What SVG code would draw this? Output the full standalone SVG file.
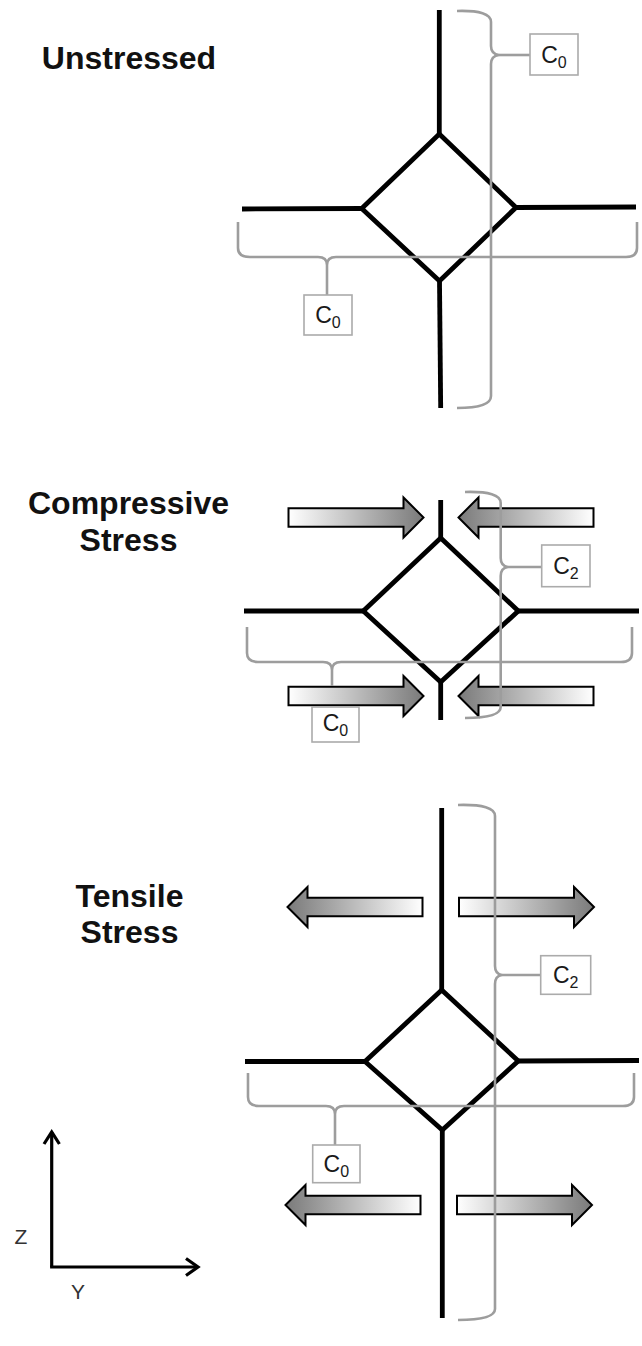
<svg xmlns="http://www.w3.org/2000/svg" width="642" height="1346" viewBox="0 0 642 1346">
<style>
.title{font-family:"Liberation Sans",Arial,sans-serif;font-weight:bold;font-size:32px;fill:#111;text-anchor:middle}
.lat{fill:none;stroke:#000;stroke-width:4.8;stroke-linejoin:miter;stroke-linecap:butt}
.brace{fill:none;stroke:#9d9d9d;stroke-width:2.6;stroke-linecap:butt}
.box{fill:#fff;stroke:#ababab;stroke-width:1.6}
.lbl{font-family:"Liberation Sans",Arial,sans-serif;font-size:23px;fill:#1a1a1a;text-anchor:middle}
.sub{font-size:16px}
.arr{fill:url(#g);stroke:#000;stroke-width:2}
.axis{fill:none;stroke:#000;stroke-width:3.2;stroke-linecap:butt;stroke-linejoin:miter}
.ax{font-family:"Liberation Sans",Arial,sans-serif;font-size:21px;fill:#333;text-anchor:middle}
</style>
<defs>
<linearGradient id="g" x1="0" y1="0" x2="1" y2="0">
<stop offset="0" stop-color="#ffffff"/>
<stop offset="1" stop-color="#7a7a7a"/>
</linearGradient>
<path id="arrow" d="M0,-9.2 H115 V-20 L135,0 L115,20 V9.2 H0 Z"/>
</defs>
<rect width="642" height="1346" fill="#fff"/>

<text class="title" x="129" y="69">Unstressed</text>
<text class="title" x="128.5" y="514">Compressive</text>
<text class="title" x="128.5" y="551">Stress</text>
<text class="title" x="129.5" y="907">Tensile</text>
<text class="title" x="129.5" y="943">Stress</text>

<g id="unstressed">
<path class="lat" d="M439.3,10 L439.3,134"/>
<path class="lat" d="M439.3,134 L516,207.5 L439.5,281 L361.7,208.5 Z"/>
<path class="lat" d="M439.5,281 L440.7,408"/>
<path class="lat" d="M242,209 L361.7,208.5"/>
<path class="lat" d="M516,207.5 L636,207"/>
</g>

<g id="compressive-arrows">
<use href="#arrow" class="arr" transform="translate(288.5,517.5)"/>
<use href="#arrow" class="arr" transform="translate(593.5,517.5) scale(-1,1)"/>
<use href="#arrow" class="arr" transform="translate(288.5,696)"/>
<use href="#arrow" class="arr" transform="translate(593.5,696) scale(-1,1)"/>
</g>
<g id="compressive">
<path class="lat" d="M440.7,500 L440.7,538"/>
<path class="lat" d="M440.7,538 L518.3,611 L440.7,682 L363.3,611 Z"/>
<path class="lat" d="M440.7,682 L440.7,720"/>
<path class="lat" d="M244,611 L363.3,611"/>
<path class="lat" d="M518.3,611 L639,611"/>
</g>

<g id="tensile-arrows">
<use href="#arrow" class="arr" transform="translate(422.5,907) scale(-1,1)"/>
<use href="#arrow" class="arr" transform="translate(459,907)"/>
<use href="#arrow" class="arr" transform="translate(420.5,1205) scale(-1,1)"/>
<use href="#arrow" class="arr" transform="translate(457,1205)"/>
</g>
<g id="tensile">
<path class="lat" d="M441.7,808 L441.7,990"/>
<path class="lat" d="M441.7,990 L518.3,1061 L442.3,1130 L365,1061.5 Z"/>
<path class="lat" d="M442.3,1130 L442.3,1318"/>
<path class="lat" d="M245,1061.5 L365,1061.5"/>
<path class="lat" d="M518.3,1061 L639,1060.5"/>
</g>

<g id="connectors">
<path class="brace" d="M457,11 Q491,10 491,22 L491,46 Q491,54 499,55 Q491,56 491,64 L491,396 Q491,408 457,408"/>
<path class="brace" d="M499,55 L530,55"/>
<path class="brace" d="M238,222 L238,248 Q238,257 250,257 L318,257 Q327,257 327,265 Q327,257 336,257 L626,257 Q637,257 637,248 L637,222"/>
<path class="brace" d="M327,265 L327,295"/>
<path class="brace" d="M465,492 Q500.7,491 500.7,503 L500.7,558 Q500.7,566 508,567 Q500.7,568 500.7,576 L500.7,707 Q500.7,718 465,718"/>
<path class="brace" d="M508,567 L541.7,567"/>
<path class="brace" d="M247,627 L247,653 Q247,662 258,662 L323,662 Q332,662 332,670 Q332,662 341,662 L621,662 Q632,662 632,653 L632,627"/>
<path class="brace" d="M332,670 L332,686"/>
<path class="brace" d="M458,805 Q495,804 495,816 L495,966 Q495,974 502,975 Q495,976 495,984 L495,1309 Q495,1320 458,1320"/>
<path class="brace" d="M502,975 L541,975"/>
<path class="brace" d="M248,1073 L248,1097 Q248,1106 259,1106 L326,1106 Q335,1106 335,1114 Q335,1106 344,1106 L623,1106 Q634,1106 634,1097 L634,1073"/>
<path class="brace" d="M335,1114 L335,1145"/>
</g>

<g id="label-c0-top-v">
<rect class="box" x="530" y="34" width="48" height="41"/>
<text class="lbl" x="554" y="63">C<tspan class="sub" dy="5">0</tspan></text>
</g>
<g id="label-c0-top-h">
<rect class="box" x="304" y="295" width="48" height="40"/>
<text class="lbl" x="328" y="323">C<tspan class="sub" dy="5">0</tspan></text>
</g>
<g id="label-c2-comp">
<rect class="box" x="541.7" y="545" width="48.3" height="41.7"/>
<text class="lbl" x="566" y="574">C<tspan class="sub" dy="5">2</tspan></text>
</g>
<g id="label-c0-comp">
<rect class="box" x="312" y="707" width="47" height="35"/>
<text class="lbl" x="335.5" y="731">C<tspan class="sub" dy="5">0</tspan></text>
</g>
<g id="label-c2-tens">
<rect class="box" x="540.7" y="955.7" width="50" height="38.6"/>
<text class="lbl" x="565.7" y="983">C<tspan class="sub" dy="5">2</tspan></text>
</g>
<g id="label-c0-tens">
<rect class="box" x="312.7" y="1145" width="47.3" height="37.7"/>
<text class="lbl" x="336.3" y="1172">C<tspan class="sub" dy="5">0</tspan></text>
</g>

<g id="axes">
<path class="axis" d="M51.7,1267 L51.7,1132"/>
<path class="axis" d="M44,1144 L51.7,1132 L59.4,1144"/>
<path class="axis" d="M50.1,1267 L198,1267"/>
<path class="axis" d="M186,1258.5 L198,1267 L186,1275.5"/>
<text class="ax" x="21" y="1243.5">Z</text>
<text class="ax" x="78" y="1299">Y</text>
</g>
</svg>
